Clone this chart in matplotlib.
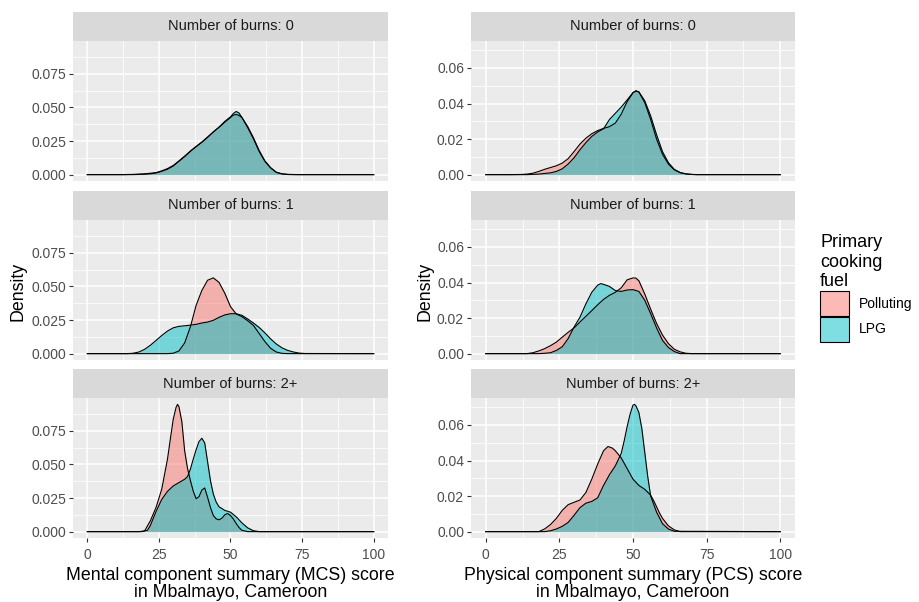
import matplotlib.pyplot as plt
from matplotlib.patches import Patch
from matplotlib.colors import to_rgba
from matplotlib.ticker import FormatStrFormatter

plt.rcParams['font.family'] = ['Liberation Sans', 'DejaVu Sans']

# density curves, one x/y pair per fuel and facet
# MCS, burns 0
mcs0_pol_x = [0, 12, 16, 20, 24, 26, 28, 30, 32, 34, 36, 38, 40, 42, 44, 46, 48, 50, 51, 52, 53, 54, 56, 58, 60, 62, 64, 66, 68, 70, 74, 100]
mcs0_pol_y = [0, 0, 0.0002, 0.0006, 0.0015, 0.0028, 0.0045, 0.0068, 0.0102, 0.0138, 0.0176, 0.021, 0.0243, 0.028, 0.0318, 0.0352, 0.039, 0.0425, 0.0443, 0.0448, 0.044, 0.0425, 0.0358, 0.0275, 0.018, 0.0103, 0.0052, 0.0018, 0.0006, 0.0002, 0, 0]
mcs0_lpg_x = [0, 16, 20, 22, 24, 26, 28, 30, 32, 34, 36, 38, 40, 42, 44, 46, 48, 50, 51, 52, 53, 54, 56, 58, 60, 62, 64, 66, 68, 70, 72, 100]
mcs0_lpg_y = [0, 0, 0.0003, 0.0006, 0.0012, 0.0025, 0.004, 0.0064, 0.0099, 0.0134, 0.0173, 0.0208, 0.024, 0.0277, 0.0317, 0.0354, 0.0396, 0.043, 0.0455, 0.047, 0.0458, 0.0425, 0.035, 0.0267, 0.0173, 0.0099, 0.005, 0.0017, 0.0005, 0.0001, 0, 0]
# MCS, burns 1
mcs1_pol_x = [0, 28, 30, 32, 34, 36, 38, 40, 42, 44, 46, 48, 50, 52, 54, 56, 58, 60, 62, 64, 66, 68, 70, 100]
mcs1_pol_y = [0, 0, 0.0003, 0.002, 0.008, 0.02, 0.036, 0.047, 0.0546, 0.0564, 0.053, 0.045, 0.035, 0.0295, 0.0275, 0.0245, 0.021, 0.015, 0.009, 0.004, 0.0012, 0.0002, 0, 0]
mcs1_lpg_x = [0, 14, 16, 18, 20, 22, 24, 26, 28, 30, 32, 34, 36, 38, 40, 42, 44, 46, 48, 50, 52, 54, 56, 58, 60, 62, 64, 66, 68, 70, 72, 74, 76, 100]
mcs1_lpg_y = [0, 0, 0.0003, 0.0012, 0.0032, 0.0062, 0.0098, 0.0135, 0.0168, 0.0192, 0.0203, 0.0207, 0.0212, 0.0218, 0.0228, 0.0235, 0.0248, 0.027, 0.0288, 0.0297, 0.0297, 0.0285, 0.0258, 0.0228, 0.0195, 0.0155, 0.011, 0.0072, 0.0043, 0.0024, 0.0012, 0.0004, 0.0001, 0]
# MCS, burns 2+
mcs2_pol_x = [0, 18, 20, 22, 24, 26, 28, 29, 30, 31, 31.5, 32, 33, 34, 35, 36, 37, 38, 39, 40, 41, 42, 43, 44, 45, 46, 47, 48, 49, 50, 51, 52, 53, 54, 56, 100]
mcs2_pol_y = [0, 0, 0.0005, 0.008, 0.018, 0.0317, 0.054, 0.069, 0.0836, 0.0925, 0.0947, 0.093, 0.082, 0.06, 0.047, 0.038, 0.03, 0.0245, 0.026, 0.031, 0.0325, 0.0255, 0.018, 0.012, 0.0095, 0.0088, 0.01, 0.0125, 0.0135, 0.012, 0.0094, 0.006, 0.003, 0.001, 0, 0]
mcs2_lpg_x = [0, 19, 21, 22, 24, 26, 28, 30, 32, 34, 35, 36, 37, 38, 39, 40, 41, 42, 43, 44, 45, 46, 48, 50, 52, 54, 56, 58, 60, 100]
mcs2_lpg_y = [0, 0, 0.001, 0.0045, 0.015, 0.024, 0.030, 0.034, 0.0365, 0.039, 0.041, 0.0465, 0.054, 0.061, 0.067, 0.0695, 0.066, 0.052, 0.038, 0.028, 0.022, 0.0185, 0.0158, 0.0145, 0.011, 0.0065, 0.0028, 0.0007, 0, 0]

# PCS, burns 0
pcs0_pol_x = [0, 8, 12, 14, 16, 18, 20, 22, 24, 26, 28, 30, 32, 34, 36, 38, 40, 42, 44, 46, 48, 50, 51, 52, 54, 56, 58, 60, 62, 64, 66, 68, 70, 72, 100]
pcs0_pol_y = [0, 0, 0.0001, 0.0003, 0.0008, 0.0018, 0.003, 0.004, 0.005, 0.0065, 0.009, 0.013, 0.0172, 0.0205, 0.023, 0.0248, 0.026, 0.027, 0.029, 0.034, 0.041, 0.046, 0.0472, 0.0465, 0.0405, 0.031, 0.02, 0.0115, 0.006, 0.0027, 0.0011, 0.0004, 0.0001, 0, 0]
pcs0_lpg_x = [0, 14, 18, 22, 24, 26, 28, 30, 32, 34, 36, 38, 40, 42, 44, 46, 48, 50, 51, 52, 54, 56, 58, 60, 62, 64, 66, 68, 70, 72, 100]
pcs0_lpg_y = [0, 0, 0.0003, 0.001, 0.0018, 0.0033, 0.006, 0.0095, 0.014, 0.018, 0.0215, 0.024, 0.0258, 0.031, 0.0345, 0.038, 0.042, 0.0462, 0.047, 0.0465, 0.0415, 0.033, 0.0225, 0.013, 0.0068, 0.003, 0.0012, 0.0004, 0.0001, 0, 0]
# PCS, burns 1
pcs1_pol_x = [0, 14, 16, 18, 20, 22, 24, 26, 28, 30, 32, 34, 36, 38, 40, 42, 44, 46, 48, 50, 51, 52, 54, 56, 58, 60, 62, 64, 66, 68, 70, 100]
pcs1_pol_y = [0, 0, 0.0005, 0.0015, 0.0028, 0.0045, 0.0065, 0.0093, 0.012, 0.0145, 0.0178, 0.021, 0.0242, 0.0275, 0.0305, 0.0328, 0.0345, 0.037, 0.0415, 0.0426, 0.0425, 0.041, 0.0335, 0.025, 0.017, 0.0105, 0.0057, 0.0025, 0.001, 0.0002, 0, 0]
pcs1_lpg_x = [0, 18, 20, 22, 24, 26, 28, 30, 32, 34, 36, 38, 39, 40, 42, 44, 46, 48, 50, 52, 54, 56, 58, 60, 62, 64, 66, 100]
pcs1_lpg_y = [0, 0, 0.0002, 0.0005, 0.0018, 0.0039, 0.0085, 0.015, 0.0205, 0.028, 0.0345, 0.0385, 0.0394, 0.039, 0.0378, 0.0355, 0.035, 0.0358, 0.036, 0.035, 0.030, 0.0225, 0.0145, 0.0075, 0.0035, 0.0012, 0, 0]
# PCS, burns 2+
pcs2_pol_x = [0, 18, 20, 22, 24, 26, 28, 30, 32, 34, 36, 38, 40, 41.5, 43, 44, 46, 48, 50, 52, 54, 56, 57, 58, 59, 60, 62, 64, 66, 100]
pcs2_pol_y = [0, 0, 0.0015, 0.004, 0.0075, 0.012, 0.0152, 0.0165, 0.0178, 0.022, 0.0295, 0.038, 0.0455, 0.0479, 0.047, 0.0455, 0.0415, 0.0355, 0.0295, 0.026, 0.0238, 0.0205, 0.0175, 0.014, 0.0105, 0.0075, 0.0033, 0.001, 0, 0]
pcs2_lpg_x = [0, 20, 22, 24, 26, 28, 30, 32, 34, 36, 38, 40, 42, 44, 46, 47, 48, 49, 50, 50.5, 51, 52, 53, 54, 55, 56, 58, 60, 62, 64, 100]
pcs2_lpg_y = [0, 0, 0.0005, 0.0015, 0.003, 0.0052, 0.0092, 0.0135, 0.016, 0.017, 0.019, 0.026, 0.032, 0.037, 0.044, 0.051, 0.059, 0.066, 0.0712, 0.0716, 0.0708, 0.067, 0.058, 0.0445, 0.031, 0.02, 0.011, 0.0045, 0.0015, 0.0002, 0]

facets = ['Number of burns: 0', 'Number of burns: 1', 'Number of burns: 2+']
fuels = ['Polluting', 'LPG']
fuel_colors = ['#F8766D', '#00BFC4']

mcs_curves = [[(mcs0_pol_x, mcs0_pol_y), (mcs0_lpg_x, mcs0_lpg_y)],
              [(mcs1_pol_x, mcs1_pol_y), (mcs1_lpg_x, mcs1_lpg_y)],
              [(mcs2_pol_x, mcs2_pol_y), (mcs2_lpg_x, mcs2_lpg_y)]]
pcs_curves = [[(pcs0_pol_x, pcs0_pol_y), (pcs0_lpg_x, pcs0_lpg_y)],
              [(pcs1_pol_x, pcs1_pol_y), (pcs1_lpg_x, pcs1_lpg_y)],
              [(pcs2_pol_x, pcs2_pol_y), (pcs2_lpg_x, pcs2_lpg_y)]]

W, H = 919, 602
fig = plt.figure(figsize=(W / 100, H / 100), dpi=100)


def px_axes(x0, y0, x1, y1):
    return fig.add_axes([x0 / W, 1 - y1 / H, (x1 - x0) / W, (y1 - y0) / H])


columns = [
    dict(curves=mcs_curves, x0=73, x1=388, yticks=[0, 0.025, 0.05, 0.075], fmt='%.3f',
         xlabel='Mental component summary (MCS) score\nin Mbalmayo, Cameroon', ylab_x=18),
    dict(curves=pcs_curves, x0=471, x1=795, yticks=[0, 0.02, 0.04, 0.06], fmt='%.2f',
         xlabel='Physical component summary (PCS) score\nin Mbalmayo, Cameroon', ylab_x=425),
]
row_tops = [12, 191, 369]
strip_h, panel_h = 29, 140

for col in columns:
    ymax = max(max(ys) for row in col['curves'] for _, ys in row)
    pad = 0.05 * ymax
    yt = col['yticks']
    yminor = [(a + b) / 2 for a, b in zip(yt[:-1], yt[1:])] + [yt[-1] + (yt[1] - yt[0]) / 2]
    for r, top in enumerate(row_tops):
        sax = px_axes(col['x0'], top, col['x1'], top + strip_h)
        sax.set_facecolor('#D9D9D9')
        sax.set_xticks([])
        sax.set_yticks([])
        for s in sax.spines.values():
            s.set_visible(False)
        sax.text(0.5, 0.5, facets[r], ha='center', va='center', fontsize=10.5, color='#1A1A1A',
                 transform=sax.transAxes)

        ax = px_axes(col['x0'], top + strip_h, col['x1'], top + strip_h + panel_h)
        ax.set_facecolor('#EBEBEB')
        for s in ax.spines.values():
            s.set_visible(False)
        for (xs, ys), c in zip(col['curves'][r], fuel_colors):
            ax.fill_between(xs, ys, color=c, alpha=0.5, lw=0)
            ax.plot(xs, ys, color='black', lw=0.8)
        ax.set_xlim(-5, 105)
        ax.set_ylim(-pad, ymax + pad)
        ax.set_xticks([0, 25, 50, 75, 100])
        ax.set_xticks([12.5, 37.5, 62.5, 87.5], minor=True)
        ax.set_yticks(yt)
        ax.set_yticks(yminor, minor=True)
        ax.yaxis.set_major_formatter(FormatStrFormatter(col['fmt']))
        ax.grid(which='major', color='white', lw=1.1)
        ax.grid(which='minor', color='white', lw=0.55)
        ax.set_axisbelow(True)
        ax.tick_params(which='major', length=3, width=0.8, color='#333333',
                       labelsize=10, labelcolor='#4D4D4D', pad=2)
        ax.tick_params(axis='x', pad=4)
        ax.tick_params(which='minor', length=0)
        if r < 2:
            ax.tick_params(axis='x', which='major', length=0, labelbottom=False)

    fig.text(col['ylab_x'] / W, 1 - 291 / H, 'Density', rotation=90, ha='center', va='center',
             fontsize=12.8)
    fig.text((col['x0'] + col['x1']) / 2 / W, 1 - 584 / H, col['xlabel'], ha='center', va='center',
             fontsize=12.8, linespacing=0.95)

handles = [Patch(facecolor=to_rgba(c, 0.5), edgecolor='black', lw=0.8) for c in fuel_colors]
fig.legend(handles, fuels, title='Primary\ncooking\nfuel', loc='upper left',
           bbox_to_anchor=(820 / W, 1 - 234 / H), frameon=False, fontsize=10, title_fontsize=13,
           handlelength=2.1, handleheight=2.4, labelspacing=0.05, handletextpad=0.7,
           alignment='left', borderaxespad=0, borderpad=0)

fig.savefig('out.png', dpi=100)
